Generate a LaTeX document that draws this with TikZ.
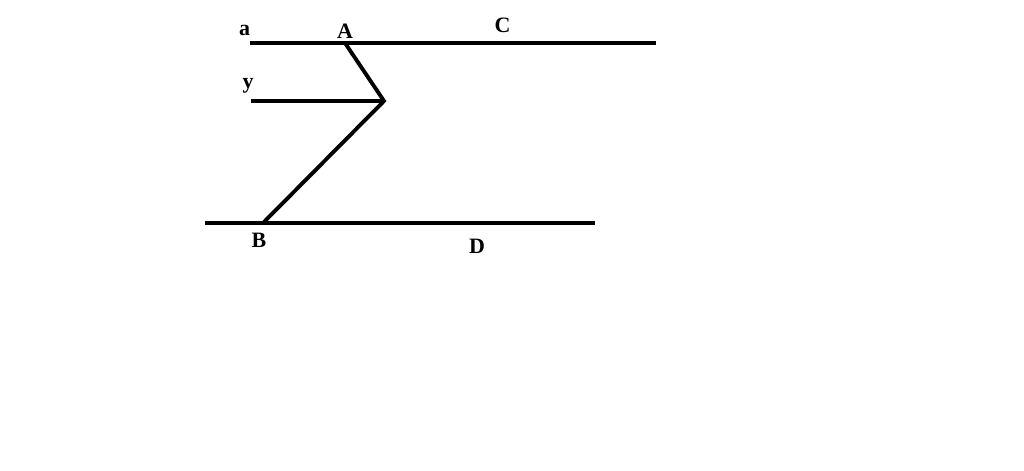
\documentclass[tikz,border=0pt]{standalone}
\usepackage{fontspec}
\setmainfont{Liberation Serif}
\begin{document}
\begin{tikzpicture}[x=0.02cm,y=-0.02cm,
  seg/.style={line width=2.2pt},
  lbl/.style={inner sep=0pt,font=\fontsize{12.5}{12.5}\selectfont\bfseries}]
  \useasboundingbox (0,0) rectangle (1024,470);

  % Points of the zigzag
  \coordinate (A) at (345,43);
  \coordinate (M) at (384,101);
  \coordinate (B) at (263,223);

  % Line ends
  \coordinate (aL) at (250,43);
  \coordinate (aR) at (656,43);
  \coordinate (yL) at (251,101);
  \coordinate (bL) at (205,223);
  \coordinate (bR) at (595,223);

  % Parallel lines
  \draw[seg] (aL) -- (aR);
  \draw[seg] (yL) -- (M);
  \draw[seg] (bL) -- (bR);

  % Zigzag between them
  \draw[seg,line join=miter] (A) -- (M) -- (B);

  % Labels
  \node[lbl] (la) at (244.5,30) {a};
  \node[lbl] (lA) at (345,31.5) {A};
  \node[lbl] (lC) at (502.5,25.5) {C};
  \node[lbl] (ly) at (248,85.5) {y};
  \node[lbl] (lB) at (259,240.5) {B};
  \node[lbl] (lD) at (477,246.5) {D};
\end{tikzpicture}
\end{document}
